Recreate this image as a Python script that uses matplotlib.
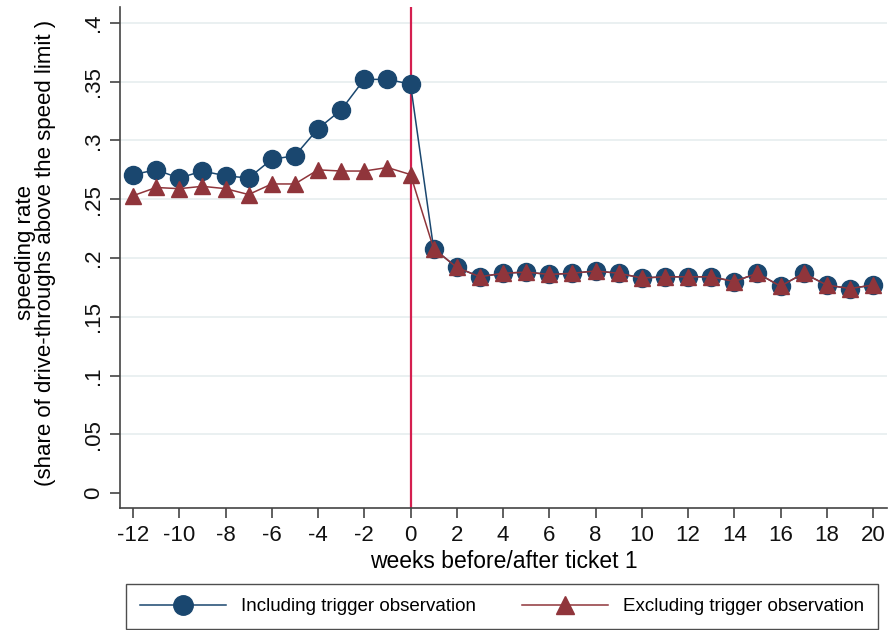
import matplotlib
matplotlib.use("Agg")
import matplotlib.pyplot as plt
from matplotlib.lines import Line2D

plt.rcParams["font.family"] = ["Liberation Sans", "DejaVu Sans"]

# weeks relative to ticket 1
weeks_pre = [-12, -11, -10, -9, -8, -7, -6, -5, -4, -3, -2, -1, 0]
weeks_post = [1, 2, 3, 4, 5, 6, 7, 8, 9, 10, 11, 12, 13, 14, 15, 16, 17, 18, 19, 20]

incl_pre = [0.271, 0.275, 0.268, 0.274, 0.270, 0.268, 0.284, 0.287,
            0.310, 0.326, 0.352, 0.352, 0.348]
excl_pre = [0.253, 0.260, 0.259, 0.261, 0.259, 0.254, 0.263, 0.263,
            0.275, 0.274, 0.274, 0.277, 0.271]
post = [0.208, 0.192, 0.184, 0.187, 0.188, 0.186, 0.187, 0.189, 0.187, 0.183,
        0.184, 0.184, 0.184, 0.180, 0.187, 0.176, 0.187, 0.177, 0.174, 0.177]

weeks = weeks_pre + weeks_post
incl = incl_pre + post
excl = excl_pre + post

y_ticks = [0, 0.05, 0.1, 0.15, 0.2, 0.25, 0.3, 0.35, 0.4]
y_labels = ["0", ".05", ".1", ".15", ".2", ".25", ".3", ".35", ".4"]
x_ticks = list(range(-12, 21, 2))

NAVY = "#1a476f"
MAROON = "#90353b"
VLINE = "#d41f4f"
GRID = "#e8eff0"
AXC = "#444444"

fig = plt.figure(figsize=(8.89, 6.3), dpi=100)
ax = fig.add_axes([120 / 889, 122 / 630, 767 / 889, 623 / 630 - 122 / 630])

for yv in y_ticks[1:]:
    ax.axhline(yv, color=GRID, linewidth=1.3, zorder=0)

ax.axvline(0, color=VLINE, linewidth=1.6, zorder=1)

ax.plot(weeks, incl, color=NAVY, linewidth=1.1, marker="o", markersize=13,
        markeredgecolor=NAVY, zorder=3)
ax.plot(weeks, excl, color=MAROON, linewidth=1.1, marker="^", markersize=12,
        markeredgecolor=MAROON, zorder=4)

ax.set_xlim(-12 - 13 / 23.125, 20 + 14 / 23.125)
ax.set_ylim(-15 / 1177.5, 0.4 + 16 / 1177.5)

ax.set_yticks(y_ticks)
ax.set_yticklabels(y_labels, rotation=90, va="center", fontsize=16)
ax.set_xticks(x_ticks)
ax.set_xticklabels([str(v) for v in x_ticks], fontsize=16)
ax.tick_params(axis="both", direction="out", width=1.2, color=AXC,
               labelcolor="#111111")
ax.tick_params(axis="y", length=7.5, pad=4)
ax.tick_params(axis="x", length=7, pad=5)

for side in ["top", "right"]:
    ax.spines[side].set_visible(False)
for side in ["left", "bottom"]:
    ax.spines[side].set_color(AXC)
    ax.spines[side].set_linewidth(1.2)

ax.set_xlabel("weeks before/after ticket 1", fontsize=16.5)
ax.xaxis.set_label_coords(0.5, -0.084)
ax.set_ylabel("speeding rate\n(share of drive-throughs above the speed limit )",
              fontsize=16, linespacing=0.95)
ax.yaxis.set_label_coords(-0.083, 0.51)

handles = [
    Line2D([], [], color=NAVY, linewidth=1.1, marker="o", markersize=14),
    Line2D([], [], color=MAROON, linewidth=1.1, marker="^", markersize=13),
]
leg = fig.legend(handles, ["Including trigger observation", "Excluding trigger observation"],
                 ncol=2, loc="center", mode="expand", borderaxespad=0,
                 bbox_to_anchor=(126 / 889, 2 / 630, 752 / 889, 43 / 630),
                 fontsize=13.5, handlelength=4.6, handletextpad=0.8,
                 borderpad=0.75, fancybox=False, frameon=True)
leg.get_frame().set_edgecolor("#222222")
leg.get_frame().set_linewidth(1.0)

fig.savefig("out.png", dpi=100)
